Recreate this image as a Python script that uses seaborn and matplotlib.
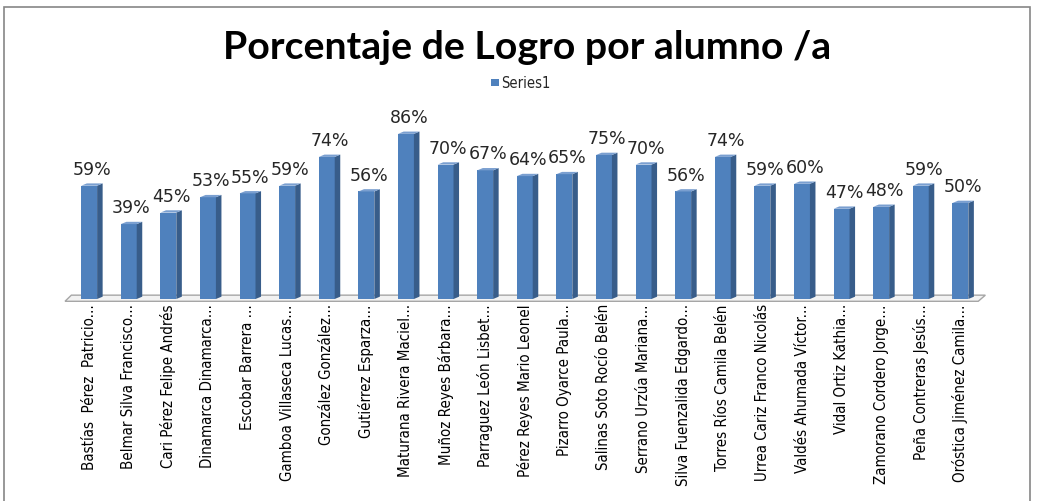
import matplotlib
matplotlib.use("Agg")
import matplotlib.pyplot as plt
import seaborn as sns
import pandas as pd
from matplotlib.patches import Polygon, Rectangle

alumnos = ['Bastías  Pérez  Patricio...', 'Belmar Silva Francisco...', 'Cari Pérez Felipe Andrés',
           'Dinamarca Dinamarca...', 'Escobar Barrera ...', 'Gamboa Villaseca Lucas...',
           'González González...', 'Gutiérrez Esparza...', 'Maturana Rivera Maciel...',
           'Muñoz Reyes Bárbara...', 'Parraguez León Lisbet...', 'Pérez Reyes Mario Leonel',
           'Pizarro Oyarce Paula...', 'Salinas Soto Rocío Belén', 'Serrano Urzúa Mariana...',
           'Silva Fuenzalida Edgardo...', 'Torres Ríos Camila Belén', 'Urrea Cariz Franco Nicolás',
           'Valdés Ahumada Víctor...', 'Vidal Ortiz Kathia...', 'Zamorano Cordero Jorge...',
           'Peña Contreras Jesús...', 'Oróstica Jiménez Camila...']
logro = [59, 39, 45, 53, 55, 59, 74, 56, 86, 70, 67, 64, 65, 75, 70, 56, 74, 59, 60, 47, 48, 59, 50]

df = pd.DataFrame({'alumno': alumnos, 'logro': [v / 100 for v in logro]})

front = '#4F81BD'
side = '#385D8A'
top = '#7A9FD0'

sns.set_theme(style="white")
fig = plt.figure(figsize=(10.37, 5.02), dpi=100)
ax = fig.add_axes([0.0627, 0.4024, 0.8875, 0.3825])
sns.barplot(data=df, x='alumno', y='logro', color=front, width=0.4, saturation=1,
            edgecolor='none', ax=ax)
bars = list(ax.patches)

n = len(alumnos)
ax.set_xlim(-0.61, n - 1 + 0.63)
ax.set_ylim(0, 1)
dx, dy = 0.14, 0.012

# floor
ax.add_patch(Polygon([(-0.61, -0.012), (n - 1 + 0.45, -0.012), (n - 1 + 0.63, 0.02),
                      (-0.45, 0.02)], closed=True, facecolor='#F2F2F2',
                     edgecolor='#A6A6A6', lw=1.0, zorder=0.5, clip_on=False))

for p in bars:
    x0 = p.get_x()
    w = p.get_width()
    h = p.get_height()
    p.set_zorder(3)
    ax.add_patch(Polygon([(x0 + w, 0), (x0 + w + dx, dy), (x0 + w + dx, h + dy), (x0 + w, h)],
                         closed=True, facecolor=side, edgecolor='none', zorder=3))
    ax.add_patch(Polygon([(x0, h), (x0 + w, h), (x0 + w + dx, h + dy), (x0 + dx, h + dy)],
                         closed=True, facecolor=top, edgecolor='none', zorder=3))

for i, v in enumerate(logro):
    ax.annotate(f'{v}%', (i + dx / 2, v / 100 + dy), xytext=(0, 4), textcoords='offset points',
                ha='center', va='bottom', fontsize=12.5, color='#262626', family='DejaVu Sans')

for s in ax.spines.values():
    s.set_visible(False)
ax.set_yticks([])
ax.set_xlabel('')
ax.set_ylabel('')
ax.tick_params(axis='x', length=0, pad=3)
ax.set_xticks(range(n))
ax.set_xticklabels(alumnos, rotation=90, ha='center', va='top', fontsize=10.8,
                   family='DejaVu Sans', fontstretch='condensed', color='#000000')

fig.text(0.508, 0.905, 'Porcentaje de Logro por alumno /a', ha='center', va='center',
         fontsize=28.3, fontweight='bold', family=['Lato', 'DejaVu Sans'], color='#000000')
fig.patches.append(Rectangle((0.4735, 0.826), 0.0075, 0.0155, transform=fig.transFigure,
                             facecolor=front, edgecolor='none'))
fig.text(0.4835, 0.834, 'Series1', ha='left', va='center', fontsize=10.5,
         family='DejaVu Sans', fontstretch='condensed')
fig.patches.append(Rectangle((0.0035, -0.01), 0.9895, 0.994, transform=fig.transFigure,
                             facecolor='none', edgecolor='#868686', lw=1.2))

fig.savefig('out.png', dpi=100)
